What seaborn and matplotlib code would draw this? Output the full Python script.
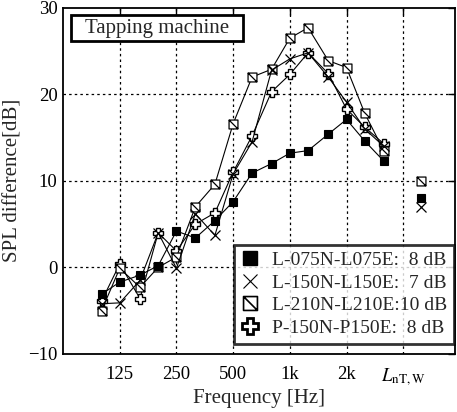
import matplotlib
matplotlib.use("Agg")
import pandas as pd
import matplotlib.pyplot as plt
from matplotlib.path import Path
from matplotlib.lines import Line2D
from matplotlib.patches import Rectangle
import seaborn as sns

# ── Data ──────────────────────────────────────────────────────────────────────

freqs = [100, 125, 160, 200, 250, 315, 400, 500, 630, 800,
         1000, 1250, 1600, 2000, 2500, 3150]

l075 = [-3.1, -1.7, -0.9, 0.2, 4.2, 3.4, 5.4, 7.6, 10.9, 12.0,
        13.2, 13.5, 15.4, 17.1, 14.6, 12.3]
l150 = [-4.2, -4.1, -1.5, 4.0, -0.1, 6.2, 3.7, 10.8, 14.5, 22.8,
        24.1, 24.8, 22.0, 19.1, 16.0, 14.0]
l210 = [-5.0, -0.1, -2.3, 0.0, 1.2, 7.0, 9.6, 16.6, 22.0, 22.9,
        26.5, 27.7, 23.9, 23.1, 17.8, 13.5]
p150 = [-3.9, 0.4, -3.6, 4.0, 1.9, 5.0, 6.3, 11.0, 15.2, 20.3,
        22.3, 24.8, 22.4, 18.3, 16.2, 14.3]

series_names = ["L-075N-L075E", "L-150N-L150E", "L-210N-L210E", "P-150N-P150E"]
single_vals = [8, 7, 10, 8]          # L_nT,w differences
single_x = 5000                      # where the single-number points sit

tick_freqs = [125, 250, 500, 1000, 2000, 4000]
tick_labels = ["125", "250", "500", "1k", "2k", r"$L_{\mathrm{nT,W}}$"]

# ── Style ─────────────────────────────────────────────────────────────────────

sns.set_style("white")
plt.rcParams.update({
    "font.family": ["Liberation Serif", "DejaVu Serif"],
    "mathtext.fontset": "stix",
    "axes.unicode_minus": True,
})

slash_sq = Path(
    [(-1, -1), (1, -1), (1, 1), (-1, 1), (-1, -1), (-1, 1), (1, -1)],
    [Path.MOVETO, Path.LINETO, Path.LINETO, Path.LINETO, Path.CLOSEPOLY,
     Path.MOVETO, Path.LINETO],
)

_STYLE = {
    "P-150N-P150E": dict(marker="P", ms=6.6, mfc="white", mew=1.0, z=3),
    "L-210N-L210E": dict(marker=slash_sq, ms=6.4, mfc="white", mew=0.9, z=4),
    "L-150N-L150E": dict(marker="x", ms=7.0, mfc="black", mew=0.9, z=5),
    "L-075N-L075E": dict(marker="s", ms=6.4, mfc="black", mew=0.8, z=6),
}

rows = []
for name, vals in zip(series_names, [l075, l150, l210, p150]):
    for f, v in zip(freqs, vals):
        rows.append({"Series": name, "Frequency": f, "Diff": v})
df = pd.DataFrame(rows)
df_single = pd.DataFrame({"Series": series_names,
                          "Frequency": [single_x] * len(series_names),
                          "Diff": single_vals})

fig = plt.figure(figsize=(4.57, 4.12), dpi=100)
ax = fig.add_axes([0.138, 0.141, 0.858, 0.840])
ax.set_xscale("log")

for name in ["P-150N-P150E", "L-210N-L210E", "L-150N-L150E", "L-075N-L075E"]:
    st = _STYLE[name]
    sns.lineplot(data=df[df["Series"] == name], x="Frequency", y="Diff",
                 color="black", lw=0.8, estimator=None,
                 marker=st["marker"], ms=st["ms"], mfc=st["mfc"], mec="black",
                 mew=st["mew"], zorder=st["z"], ax=ax, legend=False)
    # single-number value; the plus sits hidden under the filled square
    ms_single = 5.0 if name == "P-150N-P150E" else st["ms"]
    sns.lineplot(data=df_single[df_single["Series"] == name], x="Frequency", y="Diff",
                 color="black", linestyle="none", estimator=None,
                 marker=st["marker"], ms=ms_single, mfc=st["mfc"], mec="black",
                 mew=st["mew"], zorder=st["z"], ax=ax, legend=False)

ax.set_xlim(62.5, 7550)
ax.set_ylim(-10, 30)
ax.set_xticks(tick_freqs)
ax.set_xticklabels(tick_labels)
ax.xaxis.set_minor_locator(matplotlib.ticker.NullLocator())
ax.set_yticks([-10, 0, 10, 20, 30])
ax.tick_params(direction="in", top=True, right=True, length=5, width=1,
               labelsize=13.5, colors="black")
ax.tick_params(axis="x", pad=9)
ax.tick_params(axis="y", pad=4)

for f in tick_freqs:
    ax.axvline(f, color="black", lw=0.9, ls=(0, (2, 2.5)), zorder=1)
for yv in [0, 10, 20]:
    ax.axhline(yv, color="black", lw=0.9, ls=(0, (2, 2.5)), zorder=1)

for sp in ax.spines.values():
    sp.set_visible(True)
    sp.set_color("black")
    sp.set_linewidth(1.3)

ax.set_xlabel("Frequency [Hz]", fontsize=15, labelpad=1)
ax.set_ylabel("SPL difference[dB]", fontsize=15, labelpad=4)

# title box
ax.add_patch(Rectangle((0.021, 0.905), 0.438, 0.075, transform=ax.transAxes,
                       facecolor="white", edgecolor="black", lw=2, zorder=8))
ax.text(0.24, 0.940, "Tapping machine", transform=ax.transAxes,
        ha="center", va="center", fontsize=15, zorder=9)

# legend
legend_labels = ["L-075N-L075E:  8 dB", "L-150N-L150E:  7 dB",
                 "L-210N-L210E:10 dB", "P-150N-P150E:  8 dB"]
handles = [
    Line2D([], [], ls="none", marker="s", ms=9.5, mfc="black", mec="black"),
    Line2D([], [], ls="none", marker="x", ms=10, mec="black", mew=0.8),
    Line2D([], [], ls="none", marker=slash_sq, ms=10, mfc="white", mec="black", mew=1.2),
    Line2D([], [], ls="none", marker="P", ms=11, mfc="white", mec="black", mew=2.0),
]
leg = ax.legend(handles, legend_labels, loc="lower right",
                bbox_to_anchor=(0.996, 0.03), fontsize=14, frameon=True,
                fancybox=False, handlelength=1.0, handletextpad=0.6,
                borderpad=0.35, labelspacing=0.25, borderaxespad=0)
leg.get_frame().set_edgecolor("black")
leg.get_frame().set_linewidth(2)
leg.set_zorder(10)

fig.savefig("out.png", dpi=100)
